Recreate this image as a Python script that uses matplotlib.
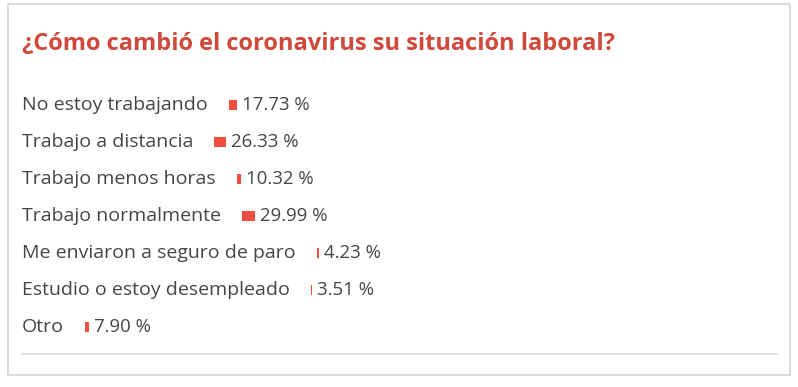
import matplotlib
matplotlib.use("Agg")
import matplotlib.pyplot as plt
from matplotlib.patches import Rectangle

title = "¿Cómo cambió el coronavirus su situación laboral?"
labels = [
    "No estoy trabajando",
    "Trabajo a distancia",
    "Trabajo menos horas",
    "Trabajo normalmente",
    "Me enviaron a seguro de paro",
    "Estudio o estoy desempleado",
    "Otro",
]
values = [17.73, 26.33, 10.32, 29.99, 4.23, 3.51, 7.90]

plt.rcParams['font.family'] = ['Open Sans', 'DejaVu Sans']

W, H = 798, 387
fig = plt.figure(figsize=(W / 100, H / 100), dpi=100)
ax = fig.add_axes([0, 0, 1, 1])
ax.set_xlim(0, W)
ax.set_ylim(H, 0)
ax.axis('off')

# card border and footer rule
ax.add_patch(Rectangle((8, 4), 782, 371, fill=False, edgecolor='#d4d4d4', linewidth=1.2))
ax.plot([22, 777], [354, 354], color='#dcdcdc', linewidth=1.2)

ax.text(22, 44, title, fontsize=17, fontweight='bold', color='#d0493b',
        va='center', ha='left')

text_color = '#454545'
bar_color = '#ee4f3f'
row0, step = 105, 37
scale = 0.45  # px per percent
fig.canvas.draw()
renderer = fig.canvas.get_renderer()

for i, (lab, val) in enumerate(zip(labels, values)):
    y = row0 + i * step
    t = ax.text(22, y, lab, fontsize=14, color=text_color, va='center', ha='left')
    bb = t.get_window_extent(renderer)
    x0 = bb.x1 + 21
    ax.barh(y, val * scale, left=x0, height=10, color=bar_color, antialiased=False)
    ax.text(x0 + val * scale + 5, y, f"{val:.2f} %", fontsize=13.4, color=text_color,
            va='center', ha='left')

fig.savefig('out.png', dpi=100, facecolor='white')
